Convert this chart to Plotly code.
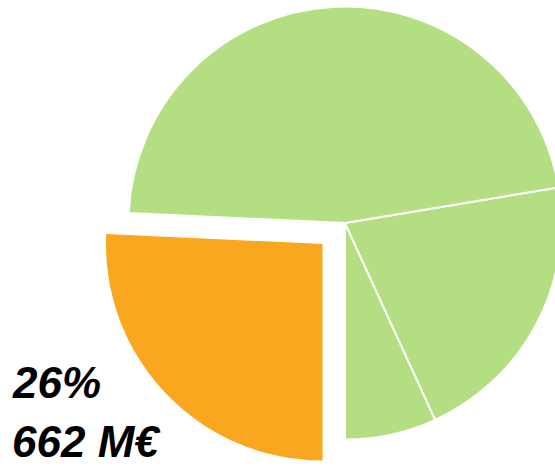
import plotly.graph_objects as go

# Data (M€), counter-clockwise from the highlighted slice
labels = ["Highlighted", "Segment B", "Segment C", "Segment D"]
values = [662, 176, 535, 1200]
share_label = "26%"
amount_label = "662 M€"

GREEN = "#B3DF82"
ORANGE = "#F8A71E"
W, H = 562, 467

# base pie (green slices, highlighted slice left empty)
base_colors = ["rgba(0,0,0,0)", GREEN, GREEN, GREEN]
# exploded highlighted slice drawn separately so the pie keeps its full radius
hl_colors = [ORANGE, "rgba(0,0,0,0)", "rgba(0,0,0,0)", "rgba(0,0,0,0)"]

cx, cy, r = 345, 223, 216.5
dx, dy = -22.5, 21

def dom(cx_, cy_):
    return dict(x=[(cx_ - r) / W, (cx_ + r) / W],
                y=[1 - (cy_ + r) / H, 1 - (cy_ - r) / H])

common = dict(labels=labels, values=values, sort=False,
              direction="counterclockwise", rotation=180,
              textinfo="none", hoverinfo="skip", showlegend=False)

fig = go.Figure()
fig.add_trace(go.Pie(marker=dict(colors=base_colors, line=dict(color="white", width=2)),
                     domain=dom(cx, cy), **common))
fig.add_trace(go.Pie(marker=dict(colors=hl_colors, line=dict(width=0)),
                     domain=dom(cx + dx, cy + dy), **common))

font = dict(family="Liberation Sans, Arial, sans-serif", size=44, color="black",
            weight="bold", style="italic")
fig.add_annotation(text=share_label, xref="paper", yref="paper",
                   x=10 / W, y=1 - 382 / H, xanchor="left", yanchor="middle",
                   showarrow=False, font=font)
fig.add_annotation(text=amount_label, xref="paper", yref="paper",
                   x=10 / W, y=1 - 441.5 / H, xanchor="left", yanchor="middle",
                   showarrow=False, font=font)

fig.update_layout(width=W, height=H, margin=dict(l=0, r=0, t=0, b=0),
                  paper_bgcolor="white", plot_bgcolor="white")
fig.write_html("out.html", config={"displayModeBar": False},
               post_script="document.body.style.margin='0';document.body.style.overflow='hidden';")
